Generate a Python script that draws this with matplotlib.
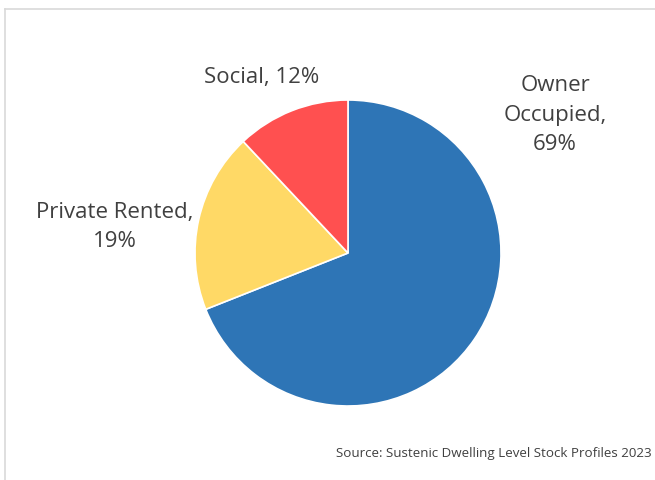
import matplotlib.pyplot as plt
from matplotlib.lines import Line2D

# Dwelling tenure split
tenures = ['Owner Occupied', 'Private Rented', 'Social']
shares = [69, 19, 12]
colours = ['#2E75B6', '#FFD966', '#FF5050']

W, H = 655, 480
fig = plt.figure(figsize=(W / 100, H / 100), dpi=100)
plt.rcParams['font.family'] = ['Open Sans', 'DejaVu Sans']

# pie centre and radius in pixels
cx, cy, r = 348, 253, 153
ax = fig.add_axes([(cx - r) / W, (H - cy - r) / H, 2 * r / W, 2 * r / H])
ax.pie(shares, colors=colours, startangle=90, counterclock=False, radius=1,
       wedgeprops=dict(edgecolor='white', linewidth=1.2))
ax.set_xlim(-1, 1)
ax.set_ylim(-1, 1)
ax.set_aspect('auto')
ax.axis('off')

txt = '#404040'
fs = 16
fig.text(555 / W, 1 - 115 / H, f'Owner\nOccupied,\n{shares[0]}%', ha='center', va='center',
         fontsize=fs, color=txt, linespacing=1.55)
fig.text(115 / W, 1 - 227 / H, f'Private Rented,\n{shares[1]}%', ha='center', va='center',
         fontsize=fs, color=txt, linespacing=1.55)
fig.text(262 / W, 1 - 77 / H, f'Social, {shares[2]}%', ha='center', va='center',
         fontsize=fs, color=txt)

fig.text(652 / W, 1 - 453 / H, 'Source: Sustenic Dwelling Level Stock Profiles 2023',
         ha='right', va='center', fontsize=9.6, color=txt)

# chart frame (top and left edges)
fig.add_artist(Line2D([5 / W, 1], [1 - 9 / H, 1 - 9 / H], color='#D9D9D9', lw=1.2,
                      transform=fig.transFigure))
fig.add_artist(Line2D([5 / W, 5 / W], [1 - 9 / H, 0], color='#D9D9D9', lw=1.2,
                      transform=fig.transFigure))

fig.savefig('out.png', dpi=100)
